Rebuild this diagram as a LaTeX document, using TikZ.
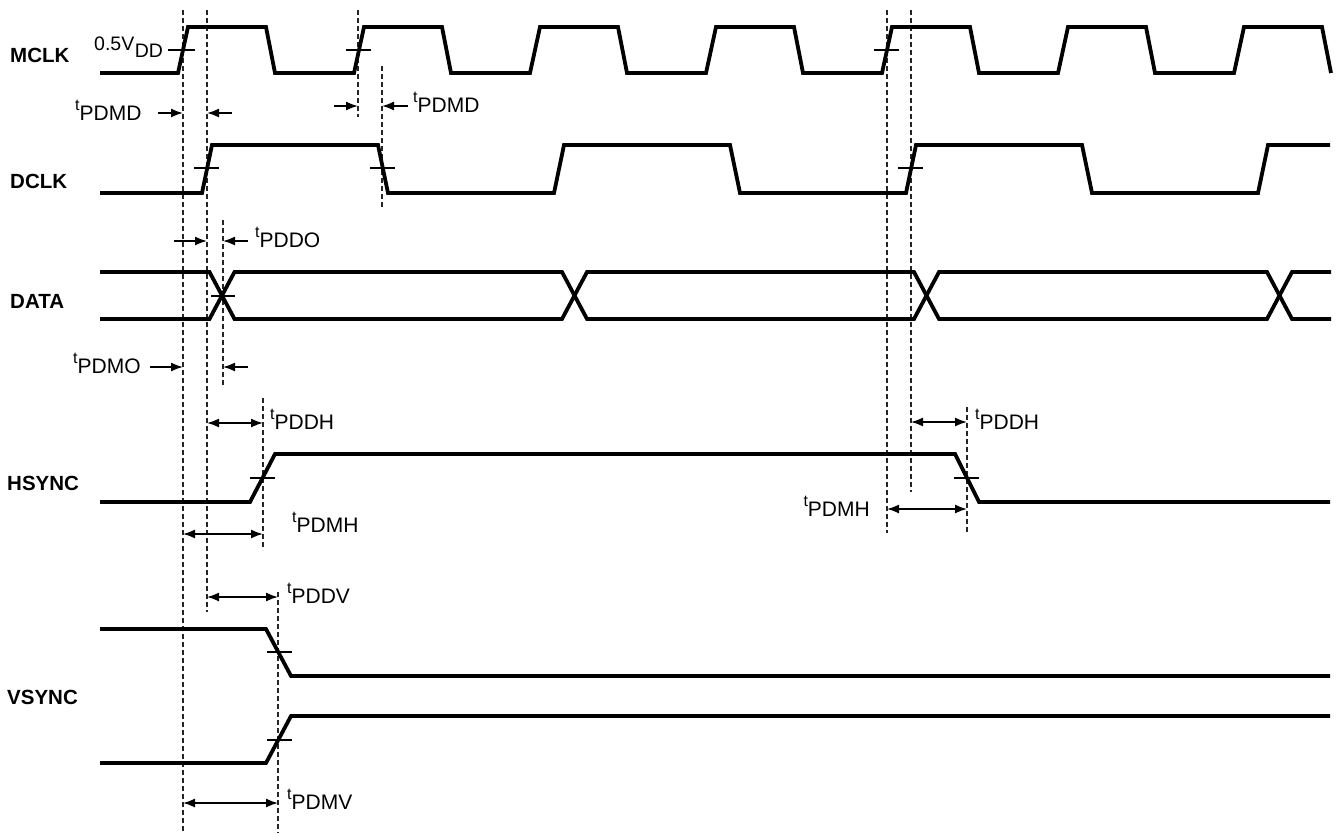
\documentclass[tikz,border=0pt]{standalone}
\usepackage{fontspec}
\setmainfont{Liberation Sans}
\usetikzlibrary{arrows.meta}
\newcommand\tlab[1]{{\fontsize{16}{16}\selectfont t}\raisebox{-10pt}{\fontsize{21}{21}\selectfont #1}}
\begin{document}
\begin{tikzpicture}[x=1pt,y=-1pt,
  sig/.style={line width=3.8pt,line join=miter,line cap=butt},
  tick/.style={line width=1.5pt},
  guide/.style={line width=1.1pt,dash pattern=on 5pt off 3pt,black!85},
  arr/.style={line width=1.6pt,-{Latex[length=12pt,width=9pt]}},
  darr/.style={line width=1.6pt,{Latex[length=12pt,width=9pt]}-{Latex[length=12pt,width=9pt]}},
  signame/.style={font=\fontsize{20.5}{21}\selectfont\bfseries,anchor=west,inner sep=0pt},
  tl/.style={anchor=base west,inner sep=0pt},
  tr/.style={anchor=base east,inner sep=0pt}]
\useasboundingbox (0,0) rectangle (1340,833);
% guide lines
\coordinate (g1t) at (183,10);  \coordinate (g1b) at (183,833);
\coordinate (g2t) at (207,10);  \coordinate (g2b) at (207,612);
\coordinate (g3t) at (223,220); \coordinate (g3b) at (223,387);
\coordinate (g4t) at (263,398); \coordinate (g4b) at (263,550);
\coordinate (g5t) at (278,592); \coordinate (g5b) at (278,833);
\coordinate (g6t) at (358,10);  \coordinate (g6b) at (358,117);
\coordinate (g7t) at (382,66);  \coordinate (g7b) at (382,209);
\coordinate (g8t) at (887,10);  \coordinate (g8b) at (887,533);
\coordinate (g9t) at (911,10);  \coordinate (g9b) at (911,492);
\coordinate (g10t) at (967,407); \coordinate (g10b) at (967,533);
\foreach \g in {1,...,10} \draw[guide] (g\g t) -- (g\g b);
% signal names
\node[signame] (mclk) at (10,55.5) {MCLK};
\node[signame] (dclk) at (10,181.5) {DCLK};
\node[signame] (data) at (10,301.5) {DATA};
\node[signame] (hsync) at (7,483.5) {HSYNC};
\node[signame] (vsync) at (7,697) {VSYNC};
% MCLK
\draw[sig] (100,73) foreach \k in {0,...,6} { -- ({178+176*\k},73) -- ({188+176*\k},27) -- ({266+176*\k},27) -- ({275+176*\k},73) };
% DCLK
\draw[sig] (100,193) -- (202,193) -- (212,145) -- (378,145) -- (388,193) -- (554,193) -- (564,145) -- (730,145) -- (740,193) -- (906,193) -- (916,145) -- (1082,145) -- (1092,193) -- (1258,193) -- (1268,145) -- (1330,145);
% DATA
\draw[sig] (100,272) -- (209.5,272) -- (234.5,319) -- (562,319) -- (587,272) -- (914,272) -- (939,319) -- (1267,319) -- (1292,272) -- (1331,272);
\draw[sig] (100,319) -- (209.5,319) -- (234.5,272) -- (562,272) -- (587,319) -- (914,319) -- (939,272) -- (1267,272) -- (1292,319) -- (1331,319);
% HSYNC
\draw[sig] (100,502) -- (250,502) -- (275,454) -- (955,454) -- (979,502) -- (1330,502);
% VSYNC
\draw[sig] (100,629) -- (266,629) -- (291,676) -- (1330,676);
\draw[sig] (100,763) -- (266,763) -- (291,716) -- (1330,716);
% ticks
\draw[tick] (168,50) -- (195,50);
\draw[tick] (346,50) -- (371,50);
\draw[tick] (874,50) -- (899,50);
\draw[tick] (194,168) -- (219,168);
\draw[tick] (370,168) -- (395,168);
\draw[tick] (898,168) -- (923,168);
\draw[tick] (211,296) -- (235,296);
\draw[tick] (250,478) -- (275,478);
\draw[tick] (954,478) -- (979,478);
\draw[tick] (267,652) -- (292,652);
\draw[tick] (267,740) -- (292,740);
% 0.5VDD
\node[tl] (vdd) at (94,50) {\fontsize{19.5}{20}\selectfont 0.5V\kern0.5pt\raisebox{-7.5pt}{DD}};
% timing arrows
\draw[arr] (158,113) -- (g1t |- 0,113);
\draw[arr] (232,113) -- (g2t |- 0,113);
\node[tl] (l1) at (75,110) {\tlab{PDMD}};
\draw[arr] (334,106) -- (g6t |- 0,106);
\draw[arr] (408,106) -- (g7t |- 0,106);
\node[tl] (l2) at (413,102) {\tlab{PDMD}};
\draw[arr] (174,241) -- (g2t |- 0,241);
\draw[arr] (248,241) -- (g3t |- 0,241);
\node[tl] (l3) at (255,237) {\tlab{PDDO}};
\draw[arr] (150,367) -- (g1t |- 0,367);
\draw[arr] (248,367) -- (g3t |- 0,367);
\node[tl] (l4) at (73,363) {\tlab{PDMO}};
\draw[darr] (g2t |- 0,423) -- (g4t |- 0,423);
\node[tl] (l5) at (270,419) {\tlab{PDDH}};
\draw[darr] (g1t |- 0,534) -- (g4t |- 0,534);
\node[tl] (l6) at (292,522) {\tlab{PDMH}};
\draw[darr] (g2t |- 0,597) -- (g5t |- 0,597);
\node[tl] (l7) at (287,593) {\tlab{PDDV}};
\draw[darr] (g1t |- 0,803) -- (g5t |- 0,803);
\node[tl] (l8) at (287,799) {\tlab{PDMV}};
\draw[darr] (g9t |- 0,422) -- (g10t |- 0,422);
\node[tl] (l9) at (975,419) {\tlab{PDDH}};
\draw[darr] (g8t |- 0,509) -- (g10t |- 0,509);
\node[tr] (l10) at (870,506) {\tlab{PDMH}};
\end{tikzpicture}
\end{document}
